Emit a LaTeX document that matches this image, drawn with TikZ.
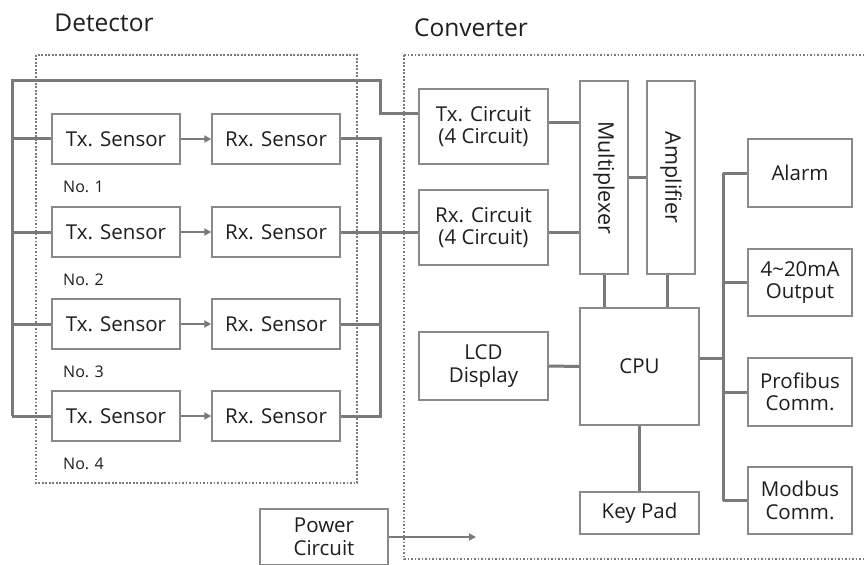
\documentclass[tikz,border=0pt]{standalone}
\usepackage{fontspec}
\setmainfont{Open Sans}
\usetikzlibrary{arrows.meta,calc}
\definecolor{lnc}{HTML}{7A7A7A}
\definecolor{bxc}{HTML}{8A8A8A}
\definecolor{txc}{HTML}{1E1E1E}
\tikzset{
  blk/.style={draw=bxc,line width=1.4pt,fill=white,text=txc,font=\fontsize{20.5}{22.5}\selectfont,align=center,inner sep=0pt},
  wire/.style={draw=lnc,line width=3pt},
  arr/.style={draw=lnc,line width=2.2pt,-{Triangle[length=7pt,width=7pt]}},
  grp/.style={draw=lnc,line width=2.2pt,dash pattern=on 1.8pt off 1.7pt},
  lbl/.style={text=txc,inner sep=0pt},
}
\begin{document}
\begin{tikzpicture}[x=1pt,y=-1pt]
\useasboundingbox (0,0) rectangle (866,564);
\clip (0,0) rectangle (866,564);
% group frames
\draw[grp] (36,55) rectangle (357,483);
\draw[grp] (404,55) -- (880,55) (404,55) -- (404,559) -- (880,559);
\node[lbl,font=\fontsize{24.5}{26}\selectfont] (det) at (104,23) {Detector};
\node[lbl,font=\fontsize{24.5}{26}\selectfont] (conv) at (471,28) {Converter};
% sensors
\foreach \i/\y in {1/139,2/232,3/324,4/416}{
  \node[blk,minimum width=128pt,minimum height=50pt] (tx\i) at (116,\y) {Tx. Sensor};
  \node[blk,minimum width=128pt,minimum height=50pt] (rx\i) at (276,\y) {Rx. Sensor};
  \node[lbl,font=\fontsize{16}{18}\selectfont,anchor=west] (no\i) at (63,\y+48) {No. \i};
  \draw[arr] (tx\i.east) -- (rx\i.west);
}
% converter blocks
\node[blk,minimum width=129pt,minimum height=75pt] (txcir) at (483.5,126.5) {Tx. Circuit\\(4 Circuit)};
\node[blk,minimum width=129pt,minimum height=75pt] (rxcir) at (483.5,227.5) {Rx. Circuit\\(4 Circuit)};
\node[blk,minimum width=48pt,minimum height=193pt] (mux) at (604,177.5) {};
\node[lbl,rotate=-90,font=\fontsize{21.5}{23}\selectfont] (muxt) at (mux.center) {Multiplexer};
\node[blk,minimum width=48pt,minimum height=193pt] (amp) at (671,177.5) {};
\node[lbl,rotate=-90,font=\fontsize{21.5}{23}\selectfont] (ampt) at (amp.center) {Amplifier};
\node[blk,minimum width=119pt,minimum height=117pt] (cpu) at (639.5,366.5) {CPU};
\node[blk,minimum width=129pt,minimum height=68pt] (lcd) at (483.5,366) {LCD\\Display};
\node[blk,minimum width=119pt,minimum height=42pt] (kp) at (639.5,513) {Key Pad};
\node[blk,minimum width=104pt,minimum height=68pt] (alarm) at (800,173) {Alarm};
\node[blk,minimum width=104pt,minimum height=67pt] (out) at (800,282.5) {4\textasciitilde20mA\\Output};
\node[blk,minimum width=104pt,minimum height=68pt] (prof) at (800,392) {Profibus\\Comm.};
\node[blk,minimum width=104pt,minimum height=67pt] (modb) at (800,500.5) {Modbus\\Comm.};
\node[blk,minimum width=128pt,minimum height=56pt] (pow) at (324,537) {Power\\Circuit};
% left bus
\coordinate (lt) at (12,81);
\coordinate (lb) at (12,416);
\coordinate (bend1) at (380,81);
\coordinate (bend2) at (380,114);
\draw[wire] (lb) -- (lt) -- (bend1) -- (bend2) -- (bend2 -| txcir.west);
\foreach \i in {1,2,3,4}{ \draw[wire] (tx\i.west) -- (tx\i.west -| lt); }
% right sensor bus
\coordinate (rt) at (380,139);
\coordinate (rb) at (380,416);
\draw[wire] (rx1.east) -- (rt) -- (rb) -- (rx4.east);
\draw[wire] (rx3.east) -- (rx3.east -| rt);
\draw[wire] (rx2.east) -- (rx2.east -| rxcir.west);
% converter wiring
\draw[wire] ($(txcir.east)+(0,-3.5)$) -- ($(txcir.east -| mux.west)+(0,-3.5)$);
\draw[wire] ($(rxcir.east)+(0,4.5)$) -- ($(rxcir.east -| mux.west)+(0,4.5)$);
\draw[wire] (mux.east) -- (amp.west);
\draw[wire] (mux.south) -- (mux.south |- cpu.north);
\draw[wire] ($(amp.south)+(-4,0)$) -- ($(amp.south |- cpu.north)+(-4,0)$);
\draw[wire] (lcd.east) -- (cpu.west);
\draw[wire] (cpu.south) -- (kp.north);
\coordinate (bt) at (723,173);
\coordinate (bb) at (723,500.5);
\coordinate (bc) at (723,358);
\draw[wire] (bt) -- (bb);
\draw[wire] (bc -| cpu.east) -- (bc);
\foreach \n in {alarm,out,prof,modb}{ \draw[wire] (\n.west -| bt) -- (\n.west); }
\coordinate (pend) at (476,537);
\draw[arr] (pow.east) -- (pend);
\end{tikzpicture}
\end{document}
